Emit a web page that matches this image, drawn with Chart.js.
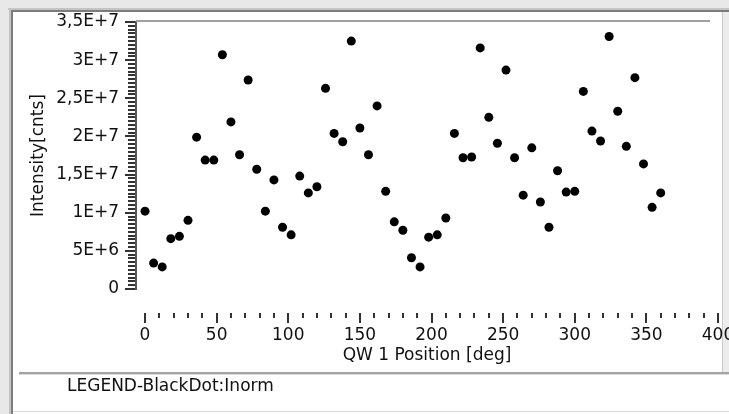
<!DOCTYPE html>
<html>
<head>
<meta charset="utf-8">
<script src="https://cdn.jsdelivr.net/npm/chart.js@4.4.0/dist/chart.umd.min.js"></script>
<style>
    html, body { margin: 0; padding: 0; background: #fff; }
    #wrap { position: relative; width: 729px; height: 414px; }
    #legendText {
        position: absolute; left: 67px; top: 375px;
        font: 17px "DejaVu Sans", sans-serif; line-height: 20px; color: #111;
    }
</style>
</head>
<body>
<div id="wrap">
    <canvas id="chart" width="729" height="414"></canvas>
    <div id="legendText">LEGEND-BlackDot:Inorm</div>
</div>
<script>
// QW 1 position (deg) and measured intensity (in millions of counts)
const positions = [
    0, 6, 12, 18, 24, 30, 36, 42, 48, 54, 60, 66, 72, 78, 84, 90, 96, 102, 108, 114,
    120, 126, 132, 138, 144, 150, 156, 162, 168, 174, 180, 186, 192, 198, 204, 210,
    216, 222, 228, 234, 240, 246, 252, 258, 264, 270, 276, 282, 288, 294, 300, 306,
    312, 318, 324, 330, 336, 342, 348, 354, 360
];
const intensityM = [
    10.2, 3.4, 2.9, 6.6, 6.9, 9.0, 19.9, 16.9, 16.9, 30.7, 21.9, 17.6, 27.4, 15.7, 10.2, 14.3, 8.1, 7.1, 14.8, 12.6,
    13.4, 26.3, 20.4, 19.3, 32.5, 21.1, 17.6, 24.0, 12.8, 8.8, 7.7, 4.1, 2.9, 6.8, 7.1, 9.3,
    20.4, 17.2, 17.3, 31.6, 22.5, 19.1, 28.7, 17.2, 12.3, 18.5, 11.4, 8.1, 15.5, 12.7, 12.8, 25.9,
    20.7, 19.4, 33.1, 23.3, 18.7, 27.7, 16.4, 10.7, 12.6
];
const xTicks = [0, 50, 100, 150, 200, 250, 300, 350, 400];
const yTicks = [0, 5e6, 1e7, 1.5e7, 2e7, 2.5e7, 3e7, 3.5e7];
const xMinorStep = 10;
const yMinorStep = 5e5;

function sciLabel(v) {
    if (v === 0) return '0';
    const e = Math.floor(Math.log10(v) + 1e-9);
    const m = v / Math.pow(10, e);
    return String(+m.toFixed(2)).replace('.', ',') + 'E+' + e;
}

// window frame, separator and custom tick marks
const framePlugin = {
    id: 'frame',
    beforeDraw(chart) {
        const ctx = chart.ctx;
        const W = chart.width, H = chart.height;
        ctx.save();
        ctx.fillStyle = '#fff';
        ctx.fillRect(0, 0, W, H);
        ctx.fillStyle = '#e8e8e8';
        ctx.fillRect(0, 0, W, 8);
        ctx.fillRect(0, 0, 9, H);
        ctx.fillStyle = '#c4c4c4';
        ctx.fillRect(8, 8, W - 8, 2);
        ctx.fillRect(9, 8, 2, H - 8);
        ctx.fillStyle = '#7c7c7c';
        ctx.fillRect(11, 10, W - 11, 2);
        ctx.fillRect(11, 10, 2, H - 10);
        // right border band
        ctx.fillStyle = '#ececec';
        ctx.fillRect(723, 12, W - 723, 360);
        ctx.fillStyle = '#cacaca';
        ctx.fillRect(722, 12, 1, 360);
        // legend separator
        ctx.fillStyle = '#a4a4a4';
        ctx.fillRect(19, 372, W - 19, 2);
        ctx.fillStyle = '#dcdcdc';
        ctx.fillRect(19, 374, W - 19, 1);
        ctx.fillRect(13, 411, W - 13, 1);
        ctx.restore();
    },
    afterDraw(chart) {
        const ctx = chart.ctx;
        const area = chart.chartArea;
        const xs = chart.scales.x, ys = chart.scales.y;
        ctx.save();
        // plot top line
        ctx.fillStyle = '#a0a0a0';
        ctx.fillRect(area.left, area.top - 2, area.right - area.left - 8, 2);
        // y axis ticks
        ctx.fillStyle = '#333';
        for (let v = 0; v <= yTicks[yTicks.length - 1] + 1; v += yMinorStep) {
            const py = Math.round(ys.getPixelForValue(v));
            const major = yTicks.some(t => Math.abs(t - v) < 1);
            const len = major ? 10 : 7;
            ctx.fillRect(area.left - 1 - len, py - 1, len, 2);
        }
        // x axis ticks
        const ty = area.bottom + 24;
        for (let v = 0; v <= xTicks[xTicks.length - 1]; v += xMinorStep) {
            const px = Math.round(xs.getPixelForValue(v));
            const major = xTicks.includes(v);
            ctx.fillRect(px - 1, ty, 2, major ? 10 : 5);
        }
        ctx.restore();
    }
};

Chart.defaults.font.family = '"DejaVu Sans", sans-serif';
Chart.defaults.font.size = 17;
Chart.defaults.color = '#111';

new Chart(document.getElementById('chart'), {
    type: 'scatter',
    data: {
        datasets: [{
            label: 'Inorm',
            data: positions.map((p, i) => ({ x: p, y: intensityM[i] * 1e6 })),
            pointRadius: 4.5,
            pointBackgroundColor: '#000',
            pointBorderWidth: 0
        }]
    },
    options: {
        responsive: false,
        animation: false,
        layout: { padding: { top: 22, left: 22, right: 11, bottom: 44 } },
        plugins: {
            legend: { display: false },
            tooltip: { enabled: false }
        },
        scales: {
            x: {
                type: 'linear',
                position: 'bottom',
                min: -6.3,
                max: 400,
                grid: { display: false, drawTicks: false },
                border: { display: false },
                afterBuildTicks: s => { s.ticks = xTicks.map(v => ({ value: v })); },
                ticks: { padding: 36, maxRotation: 0, autoSkip: false, color: '#111' },
                title: { display: true, text: 'QW 1 Position [deg]', color: '#111', padding: { top: 0, bottom: 4 } },
                afterFit: s => { s.height = 81; s.paddingLeft = 0; s.paddingRight = 0; }
            },
            y: {
                type: 'linear',
                min: 0,
                max: 3.5e7,
                grid: { display: false, drawTicks: false },
                border: { display: true, color: '#555', width: 2 },
                afterBuildTicks: s => { s.ticks = yTicks.map(v => ({ value: v })); },
                ticks: { padding: 17, color: '#111', callback: v => sciLabel(v) },
                title: { display: true, text: 'Intensity[cnts]', color: '#111', padding: { top: 6, bottom: 0 } },
                afterFit: s => { s.width = 114; s.paddingTop = 0; s.paddingBottom = 0; }
            }
        }
    },
    plugins: [framePlugin]
});
</script>
</body>
</html>
